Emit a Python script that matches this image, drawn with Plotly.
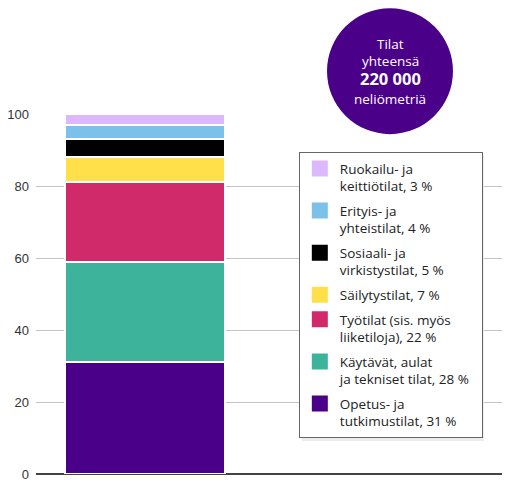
import plotly.graph_objs as go

# Space categories (bottom to top of the stacked bar) and their shares (%)
categories = [
    'Opetus- ja<br>tutkimustilat',
    'Käytävät, aulat<br>ja tekniset tilat',
    'Työtilat (sis. myös<br>liiketiloja)',
    'Säilytystilat',
    'Sosiaali- ja<br>virkistystilat',
    'Erityis- ja<br>yhteistilat',
    'Ruokailu- ja<br>keittiötilat',
]
shares = [31, 28, 22, 7, 5, 4, 3]
colors = ['#4b0089', '#3cb39a', '#d12a6b', '#ffe04b', '#000000', '#7bc1ea', '#deb8fc']
y_ticks = [0, 20, 40, 60, 80, 100]

# badge text lines: (text, font size, paper y)
badge_lines = [
    ('Tilat', 13.5, 1.195),
    ('yhteensä', 13.5, 1.148),
    ('<b>220 000</b>', 16.5, 1.098),
    ('neliömetriä', 13.5, 1.042),
]

fig = go.Figure()
for i, (name, share, color) in enumerate(zip(categories, shares, colors)):
    fig.add_trace(go.Bar(
        x=[0],
        y=[share],
        width=1,
        name=name,
        showlegend=False,
        marker=dict(color=color, line=dict(color='white', width=2)),
    ))
    # legend-only entry so the swatch is a full 16px square
    label = f'{name}, {share} %'
    if share == 28:
        label += '\u00a0\u00a0'
    fig.add_trace(go.Scatter(
        x=[None], y=[None],
        mode='markers',
        name=label,
        legendgroup=str(i),
        legendrank=len(shares) - i,
        marker=dict(symbol='square', size=16, color=color),
    ))

# faint shadow behind the legend box
fig.add_shape(
    type='rect', xref='paper', yref='paper',
    x0=0.5708, x1=0.9614, y0=0.0917, y1=0.886,
    fillcolor='#ececec', line=dict(width=0), layer='above',
)

# Total area badge
fig.add_shape(
    type='circle', xref='paper', yref='paper',
    x0=0.6245, x1=0.8948, y0=0.944, y1=1.294,
    fillcolor='#4b0089', line=dict(width=0), layer='above',
)
for text, size, ypos in badge_lines:
    fig.add_annotation(
        xref='paper', yref='paper', x=0.7597, y=ypos,
        xanchor='center', yanchor='middle',
        text=text, showarrow=False,
        font=dict(family='Open Sans', size=size, color='white'),
    )

fig.update_layout(
    width=502, height=493,
    margin=dict(l=28, r=8, t=106, b=27),
    barmode='stack',
    plot_bgcolor='white', paper_bgcolor='white',
    font=dict(family='Open Sans', color='#222'),
    xaxis=dict(range=[-0.681, 2.231], showticklabels=False, showgrid=False,
               zeroline=False, fixedrange=True),
    yaxis=dict(range=[0, 100], tickvals=y_ticks, showgrid=True, gridcolor='#c4c4c4',
               gridwidth=1, zeroline=True, zerolinecolor='#444', zerolinewidth=1.5,
               ticks='', ticklabelstandoff=6, automargin=False,
               tickfont=dict(family='Liberation Sans', size=13, color='#333')),
    legend=dict(
        x=0.564, y=0.894, xanchor='left', yanchor='top',
        bgcolor='white', bordercolor='#666', borderwidth=1,
        traceorder='grouped', tracegroupgap=4, valign='top',
        font=dict(family='Open Sans', size=13.5, color='#222'),
    ),
    showlegend=True,
)

fig.write_html("out.html")
